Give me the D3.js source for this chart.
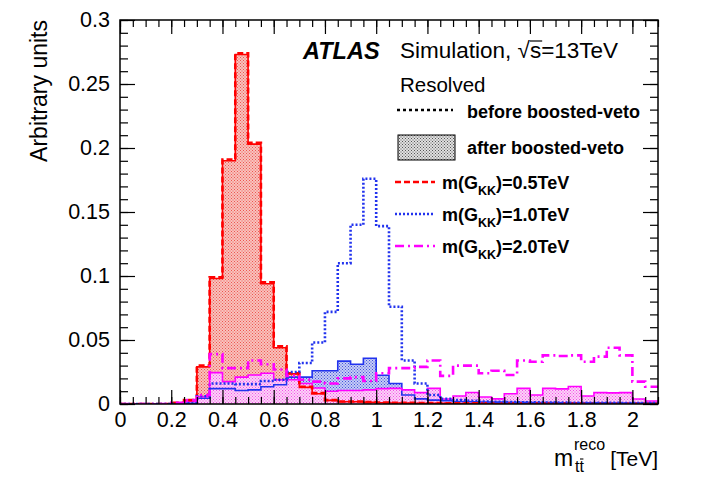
<!DOCTYPE html>
<html lang="en">
<head>
<meta charset="UTF-8">
<title>m_tt reco distribution</title>
<style>
  body { margin: 0; background: #fff; }
  text { font-family: "Liberation Sans", Arial, Helvetica, sans-serif; }
</style>
</head>
<body>
<script src="https://d3js.org/d3.v7.min.js"></script>
<div id="container"></div>
<script>
// bin low edges [TeV], width 0.05
var binWidth = 0.05;
var binLow = [0, 0.05, 0.1, 0.15, 0.2, 0.25, 0.3, 0.35, 0.4, 0.45,
              0.5, 0.55, 0.6, 0.65, 0.7, 0.75, 0.8, 0.85, 0.9, 0.95,
              1.0, 1.05, 1.1, 1.15, 1.2, 1.25, 1.3, 1.35, 1.4, 1.45,
              1.5, 1.55, 1.6, 1.65, 1.7, 1.75, 1.8, 1.85, 1.9, 1.95,
              2.0, 2.05];

// m(G_KK)=0.5TeV
var g05Before = [0, 0, 0, 0, 0.001, 0.003, 0.030, 0.099, 0.191, 0.274,
                 0.204, 0.095, 0.045, 0.024, 0.0135, 0.0085, 0.003, 0.002, 0.002, 0.0015,
                 0.0012, 0.001, 0.0009, 0.0008, 0.0007, 0.0006, 0.0006, 0.0005, 0.0005, 0.0004,
                 0.0004, 0.0004, 0.0003, 0.0003, 0.0003, 0.0003, 0.0002, 0.0002, 0.0002, 0.0002,
                 0.0002, 0.0002];
var g05After  = [0, 0, 0, 0, 0.001, 0.003, 0.029, 0.098, 0.190, 0.273,
                 0.203, 0.094, 0.044, 0.0235, 0.013, 0.008, 0.0028, 0.0018, 0.0017, 0.0013,
                 0.001, 0.0008, 0.0007, 0.0006, 0.0005, 0.0005, 0.0004, 0.0004, 0.0003, 0.0003,
                 0.0003, 0.0003, 0.0002, 0.0002, 0.0002, 0.0002, 0.0002, 0.0001, 0.0001, 0.0001,
                 0.0001, 0.0001];
// m(G_KK)=1.0TeV
var g10Before = [0, 0, 0, 0, 0, 0.0005, 0.006, 0.016, 0.016, 0.0155,
                 0.0155, 0.018, 0.019, 0.025, 0.032, 0.048, 0.072, 0.110, 0.140, 0.176,
                 0.139, 0.076, 0.034, 0.016, 0.007, 0.004, 0.003, 0.0025, 0.002, 0.0018,
                 0.0015, 0.0014, 0.0013, 0.0012, 0.0011, 0.001, 0.001, 0.0009, 0.0009, 0.0008,
                 0.0008, 0.0007];
var g10After  = [0, 0, 0, 0, 0, 0.0005, 0.0045, 0.012, 0.012, 0.0105,
                 0.011, 0.0135, 0.015, 0.021, 0.021, 0.026, 0.026, 0.0335, 0.031, 0.0357,
                 0.0225, 0.016, 0.007, 0.004, 0.003, 0.0025, 0.002, 0.0018, 0.0016, 0.0015,
                 0.0014, 0.0013, 0.0012, 0.0011, 0.001, 0.001, 0.0009, 0.0009, 0.0008, 0.0008,
                 0.0007, 0.0007];
// m(G_KK)=2.0TeV
var g20Before = [0, 0, 0, 0, 0.001, 0.003, 0.007, 0.039, 0.028, 0.028,
                 0.034, 0.031, 0.027, 0.022, 0.019, 0.0175, 0.016, 0.020, 0.021, 0.018,
                 0.024, 0.028, 0.028, 0.029, 0.034, 0.022, 0.030, 0.030, 0.024, 0.026,
                 0.0227, 0.034, 0.033, 0.038, 0.0375, 0.038, 0.033, 0.037, 0.044, 0.038,
                 0.0175, 0.0135];
var g20After  = [0, 0, 0, 0, 0.0005, 0.002, 0.0057, 0.0245, 0.0175, 0.021,
                 0.0227, 0.024, 0.019, 0.019, 0.016, 0.0125, 0.010, 0.0105, 0.0105, 0.011,
                 0.012, 0.0122, 0.011, 0.0089, 0.0122, 0.0039, 0.0062, 0.009, 0.0055, 0.004,
                 0.008, 0.0122, 0.007, 0.0122, 0.0118, 0.0137, 0.0062, 0.0089, 0.0087, 0.0089,
                 0.0039, 0.0023];

var xTicks = [0, 0.2, 0.4, 0.6, 0.8, 1, 1.2, 1.4, 1.6, 1.8, 2];
var xTickLabels = ["0", "0.2", "0.4", "0.6", "0.8", "1", "1.2", "1.4", "1.6", "1.8", "2"];
var yTicks = [0, 0.05, 0.1, 0.15, 0.2, 0.25, 0.3];
var yTickLabels = ["0", "0.05", "0.1", "0.15", "0.2", "0.25", "0.3"];

var massLabels = ["0.5", "1.0", "2.0"];
var massColors = ["#ff0000", "#2233ee", "#ff00ff"];
var massDash = ["6,3", "2,2", "9,4,2,4"];

var width = 710, height = 494;
var margin = {top: 20, right: 52, bottom: 90, left: 120};

var svg = d3.select("#container").append("svg")
    .attr("width", width).attr("height", height)
    .style("background", "#fff");

var x = d3.scaleLinear().domain([0, 2.1]).range([margin.left, width - margin.right]);
var y = d3.scaleLinear().domain([0, 0.3]).range([height - margin.bottom, margin.top]);

// dot patterns like ROOT fill style
var defs = svg.append("defs");
function dotPattern(id, bg, dot) {
    var p = defs.append("pattern").attr("id", id)
        .attr("width", 3).attr("height", 3).attr("patternUnits", "userSpaceOnUse");
    p.append("rect").attr("width", 3).attr("height", 3).attr("fill", bg);
    p.append("rect").attr("width", 1).attr("height", 1).attr("fill", dot);
    p.append("rect").attr("x", 1.5).attr("y", 1.5).attr("width", 1).attr("height", 1).attr("fill", dot);
}
dotPattern("fillRed", "#f9c2bd", "#ec5650");
dotPattern("fillBlue", "#c6cdf6", "#4452dc");
dotPattern("fillMag", "#fcd2f8", "#f252e6");
dotPattern("fillGray", "#e0e0e0", "#555");

defs.append("clipPath").attr("id", "plotClip").append("rect")
    .attr("x", x(0)).attr("y", y(0.3)).attr("width", x(2.1) - x(0)).attr("height", y(0) - y(0.3));

function steps(vals) {
    var pts = binLow.map(function(b, i) { return [b, vals[i]]; });
    pts.push([binLow[binLow.length - 1] + binWidth, vals[vals.length - 1]]);
    return pts;
}
var line = d3.line().x(d => x(d[0])).y(d => y(d[1])).curve(d3.curveStepAfter);
var area = d3.area().x(d => x(d[0])).y0(y(0)).y1(d => y(d[1])).curve(d3.curveStepAfter);

var plot = svg.append("g").attr("clip-path", "url(#plotClip)");

var afterSets = [
    {vals: g05After, fill: "url(#fillRed)", color: massColors[0]},
    {vals: g10After, fill: "url(#fillBlue)", color: massColors[1]},
    {vals: g20After, fill: "url(#fillMag)", color: massColors[2]}
];
var beforeSets = [
    {vals: g05Before, color: massColors[0], dash: massDash[0]},
    {vals: g10Before, color: massColors[1], dash: massDash[1]},
    {vals: g20Before, color: massColors[2], dash: massDash[2]}
];

plot.selectAll("path.fill").data(afterSets).enter().append("path")
    .attr("class", "fill")
    .attr("d", d => area(steps(d.vals)))
    .attr("fill", d => d.fill);
plot.selectAll("path.after").data(afterSets).enter().append("path")
    .attr("class", "after")
    .attr("d", d => line(steps(d.vals)))
    .attr("fill", "none").attr("stroke", d => d.color).attr("stroke-width", 1.6);
plot.selectAll("path.before").data(beforeSets).enter().append("path")
    .attr("class", "before")
    .attr("d", d => line(steps(d.vals)))
    .attr("fill", "none").attr("stroke", d => d.color)
    .attr("stroke-width", 2.6).attr("stroke-dasharray", d => d.dash);

// axes, ticks inside on all four sides
var xMinor = d3.range(0, 2.1001, 0.05);
var yMinor = d3.range(0, 0.3001, 0.01);
var fmtX = d => xTickLabels[xTicks.indexOf(d)];
var fmtY = d => yTickLabels[yTicks.indexOf(d)];

var axes = svg.append("g").attr("class", "axes");
function addAxis(gen, tx, ty) {
    var g = axes.append("g").attr("transform", "translate(" + tx + "," + ty + ")").call(gen);
    g.select(".domain").remove();
    g.selectAll("line").attr("stroke", "#000").attr("stroke-width", 1.2);
    g.selectAll("text").attr("fill", "#000").style("font-size", "21.5px")
        .style("font-family", '"Liberation Sans", Arial, sans-serif');
    return g;
}
addAxis(d3.axisBottom(x).tickValues(xTicks).tickSize(-14).tickPadding(8).tickFormat(fmtX), 0, y(0));
addAxis(d3.axisBottom(x).tickValues(xMinor).tickSize(-7).tickFormat(""), 0, y(0));
addAxis(d3.axisTop(x).tickValues(xTicks).tickSize(-14).tickFormat(""), 0, y(0.3));
addAxis(d3.axisTop(x).tickValues(xMinor).tickSize(-7).tickFormat(""), 0, y(0.3));
addAxis(d3.axisLeft(y).tickValues(yTicks).tickSize(-15).tickPadding(10).tickFormat(fmtY), x(0), 0);
addAxis(d3.axisLeft(y).tickValues(yMinor).tickSize(-8).tickFormat(""), x(0), 0);
addAxis(d3.axisRight(y).tickValues(yTicks).tickSize(-15).tickFormat(""), x(2.1), 0);
addAxis(d3.axisRight(y).tickValues(yMinor).tickSize(-8).tickFormat(""), x(2.1), 0);

svg.append("rect")
    .attr("x", x(0)).attr("y", y(0.3))
    .attr("width", x(2.1) - x(0)).attr("height", y(0) - y(0.3))
    .attr("fill", "none").attr("stroke", "#000").attr("stroke-width", 1.5);

// axis titles
svg.append("text")
    .attr("transform", "translate(47," + y(0.3) + ") rotate(-90)")
    .attr("text-anchor", "end").style("font-size", "23px")
    .text("Arbitrary units");

var xt = svg.append("g");
xt.append("text").attr("x", 554).attr("y", 466).style("font-size", "23px").text("m");
xt.append("text").attr("x", 574).attr("y", 450).style("font-size", "16px").text("reco");
var tt = xt.append("text").attr("x", 575).attr("y", 472).style("font-size", "16px").text("tt");
var t1 = tt.node().getSubStringLength(0, 1), t2 = tt.node().getSubStringLength(1, 1);
xt.append("line").attr("x1", 575 + t1 + 0.5).attr("x2", 575 + t1 + t2 - 0.5)
    .attr("y1", 459).attr("y2", 459).attr("stroke", "#000").attr("stroke-width", 1.1);
xt.append("text").attr("x", x(2.1)).attr("y", 466).attr("text-anchor", "end")
    .style("font-size", "21px").text("[TeV]");

// labels
svg.append("text").attr("x", 303).attr("y", 59)
    .style("font-size", "23.5px").style("font-weight", "bold").style("font-style", "italic")
    .text("ATLAS");
var sim = svg.append("text").attr("x", 400).attr("y", 58).style("font-size", "22.5px")
    .text("Simulation, \u221As=13TeV");
var simNode = sim.node();
var sStart = simNode.getSubStringLength(0, 13);
var sLen = simNode.getSubStringLength(13, 1);
svg.append("line").attr("x1", 400 + sStart).attr("x2", 400 + sStart + sLen + 1)
    .attr("y1", 41).attr("y2", 41).attr("stroke", "#000").attr("stroke-width", 1.2);

svg.append("text").attr("x", 400).attr("y", 92).style("font-size", "20.5px").text("Resolved");

var leg = svg.append("g").style("font-weight", "bold").style("font-size", "18px");
leg.append("line").attr("x1", 397).attr("x2", 453).attr("y1", 110).attr("y2", 110)
    .attr("stroke", "#000").attr("stroke-width", 2.5).attr("stroke-dasharray", "3,3");
leg.append("text").attr("x", 467).attr("y", 118).text("before boosted-veto");
leg.append("rect").attr("x", 398).attr("y", 135).attr("width", 57).attr("height", 25)
    .attr("fill", "url(#fillGray)").attr("stroke", "#000").attr("stroke-width", 1);
leg.append("text").attr("x", 467).attr("y", 154).text("after boosted-veto");

var rows = leg.selectAll("g.mass").data(massLabels).enter().append("g")
    .attr("class", "mass")
    .attr("transform", (d, i) => "translate(0," + (i * 32) + ")");
rows.append("line").attr("x1", 395).attr("x2", 435).attr("y1", 182).attr("y2", 182)
    .attr("stroke", (d, i) => massColors[i]).attr("stroke-width", 2.6)
    .attr("stroke-dasharray", (d, i) => massDash[i]);
var mt = rows.append("text").attr("x", 442).attr("y", 189);
mt.append("tspan").text("m(G");
mt.append("tspan").attr("dy", 6).style("font-size", "12.5px").text("KK");
mt.append("tspan").attr("dy", -6).text(d => ")=" + d + "TeV");
</script>
</body>
</html>
